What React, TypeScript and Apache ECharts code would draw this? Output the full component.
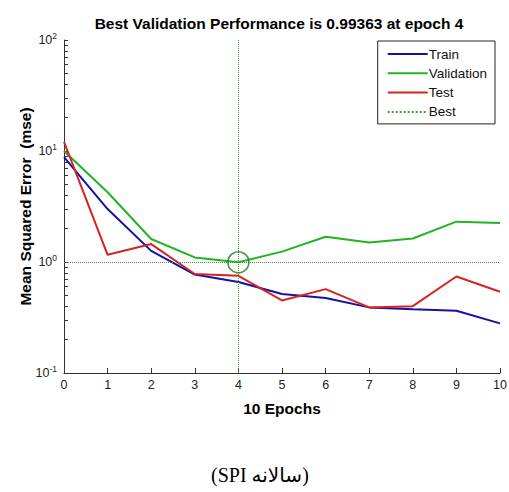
import React, { useEffect, useRef } from "react";
import * as echarts from "echarts";

// Training record of the network (mean squared error per epoch)
const epochs = [0, 1, 2, 3, 4, 5, 6, 7, 8, 9, 10];
const trainMse = [8.8, 3.0, 1.26, 0.77, 0.66, 0.515, 0.474, 0.39, 0.375, 0.364, 0.28];
const validationMse = [10.0, 4.25, 1.61, 1.1, 0.99363, 1.24, 1.69, 1.5, 1.63, 2.31, 2.25];
const testMse = [12.1, 1.16, 1.45, 0.78, 0.75, 0.45, 0.57, 0.39, 0.4, 0.74, 0.54];

const bestEpoch = 4;
const bestPerf = 0.99363;

const yMajorTicks = [0.1, 1, 10, 100];
const yMinorTicks = [
  0.1, 0.2, 0.3, 0.4, 0.5, 0.6, 0.7, 0.8, 0.9,
  1, 2, 3, 4, 5, 6, 7, 8, 9,
  10, 20, 30, 40, 50, 60, 70, 80, 90, 100,
];

const FONT = "Arial, 'Liberation Sans', sans-serif";

export default function App() {
  const ref = useRef<HTMLDivElement>(null);

  useEffect(() => {
    if (!ref.current) return;
    const chart = echarts.init(ref.current, null, { renderer: "svg" });

    const pairs = (vals: number[]) => epochs.map((e, i) => [e, vals[i]]);

    chart.setOption({
      animation: false,
      backgroundColor: "#ffffff",
      title: {
        text: `Best Validation Performance is ${bestPerf} at epoch ${bestEpoch}`,
        left: 274,
        textAlign: "center",
        top: 10,
        textStyle: { fontFamily: FONT, fontSize: 15.5, fontWeight: "bold", color: "#000" },
      },
      legend: {
        orient: "vertical",
        right: 14,
        top: 41,
        itemWidth: 40,
        itemHeight: 10,
        itemGap: 5.3,
        padding: [6, 8, 5, 9],
        borderColor: "#222",
        borderWidth: 1,
        backgroundColor: "#fff",
        data: ["Train", "Validation", "Test", "Best"],
        itemStyle: { opacity: 0 },
        textStyle: { fontFamily: FONT, fontSize: 13.5, color: "#111", padding: [0, 0, 0, -4] },
      },
      grid: {
        left: 64,
        right: 9,
        top: 40,
        bottom: 119,
        outerBoundsMode: "none",
      },
      xAxis: {
        type: "value",
        min: 0,
        max: 10,
        interval: 1,
        name: "10 Epochs",
        nameLocation: "middle",
        nameGap: 27,
        nameTextStyle: { fontFamily: FONT, fontSize: 15.5, fontWeight: "bold", color: "#000" },
        axisLine: { show: true, lineStyle: { color: "#333", width: 1 } },
        axisTick: { show: true, inside: true, length: 5, lineStyle: { color: "#333" } },
        axisLabel: { fontFamily: FONT, fontSize: 12.5, color: "#222", margin: 5 },
        splitLine: { show: false },
      },
      yAxis: {
        type: "log",
        logBase: 10,
        min: 0.1,
        max: 100,
        name: "Mean Squared Error  (mse)",
        nameLocation: "middle",
        nameGap: 31,
        nameMoveOverlap: false,
        nameTextStyle: { fontFamily: FONT, fontSize: 15.5, fontWeight: "bold", color: "#000" },
        axisLine: { show: true, onZero: false, lineStyle: { color: "#333", width: 1 } },
        axisTick: {
          show: true,
          inside: true,
          length: 4,
          customValues: yMinorTicks,
          lineStyle: { color: "#333" },
        },
        axisLabel: {
          customValues: yMajorTicks,
          margin: 7,
          formatter: (v: number) => `{b|10}{s|${Math.round(Math.log10(v))}}`,
          rich: {
            b: { fontFamily: FONT, fontSize: 12.5, color: "#222" },
            s: { fontFamily: FONT, fontSize: 8.5, color: "#222", padding: [0, 0, 9, 0] },
          },
        },
        splitLine: { show: false },
      },
      series: [
        {
          name: "Train",
          type: "line",
          data: pairs(trainMse),
          symbol: "none",
          lineStyle: { color: "#1212a6", width: 2 },
          itemStyle: { color: "#1212a6" },
          z: 3,
        },
        {
          name: "Validation",
          type: "line",
          data: pairs(validationMse),
          symbol: "none",
          lineStyle: { color: "#22b422", width: 2 },
          itemStyle: { color: "#22b422" },
          z: 2,
        },
        {
          name: "Test",
          type: "line",
          data: pairs(testMse),
          symbol: "none",
          lineStyle: { color: "#d82222", width: 2 },
          itemStyle: { color: "#d82222" },
          z: 4,
        },
        {
          name: "Best",
          type: "line",
          data: [],
          symbol: "none",
          lineStyle: { color: "#3a9a3a", width: 1, type: "dotted" },
          itemStyle: { color: "#3a9a3a" },
          markLine: {
            silent: true,
            symbol: "none",
            label: { show: false },
            lineStyle: { color: "#3a9a3a", width: 1, type: "dotted" },
            data: [{ xAxis: bestEpoch }, { yAxis: bestPerf }],
          },
          z: 1,
        },
        {
          name: "BestPoint",
          type: "scatter",
          data: [[bestEpoch, bestPerf]],
          symbol: "circle",
          symbolSize: 21,
          itemStyle: { color: "rgba(0,0,0,0)", borderColor: "#1c7a1c", borderWidth: 1.6 },
          z: 5,
        },
      ],
      graphic: [
        {
          type: "text",
          left: 211,
          top: 465,
          style: {
            text: "(SPI سالانه)",
            fontFamily: "'Liberation Serif', 'DejaVu Serif', 'DejaVu Sans', serif",
            fontSize: 20,
            fill: "#000",
          },
        },
      ],
    });

    return () => chart.dispose();
  }, []);

  return (
    <div
      ref={ref}
      style={{ position: "fixed", left: 0, top: 0, width: 509, height: 492, background: "#fff" }}
    />
  );
}
